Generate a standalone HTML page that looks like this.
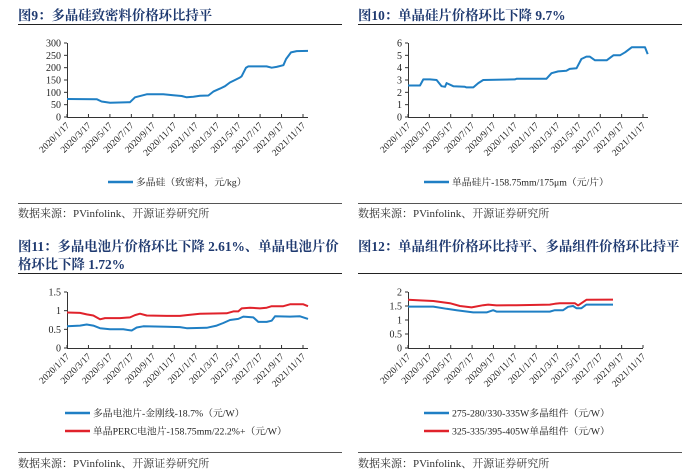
<!DOCTYPE html>
<html><head><meta charset="utf-8">
<style>
html,body{margin:0;padding:0;background:#fff;}
svg{display:block;}
text{font-family:"Liberation Serif","Noto Serif CJK SC",serif;}
.title{font-size:13.4px;font-weight:bold;fill:#1f3a70;}
.tick{font-size:9.5px;fill:#222;}
.ytick{font-size:10px;fill:#222;}
.leg{font-size:9.8px;fill:#222;}
.src{font-size:11px;fill:#333;}
</style></head>
<body>
<svg id="root" width="700" height="474" viewBox="0 0 700 474" xmlns="http://www.w3.org/2000/svg">
  <text class="title" x="18" y="20">图9：多晶硅致密料价格环比持平</text>
  <line x1="18" y1="24.5" x2="342" y2="24.5" stroke="#222" stroke-width="1"/>
  <text class="title" x="358" y="20">图10：单晶硅片价格环比下降 9.7%</text>
  <line x1="358" y1="24.5" x2="682" y2="24.5" stroke="#222" stroke-width="1"/>
  <text class="title" x="18" y="251">图11：多晶电池片价格环比下降 2.61%、单晶电池片价</text>
  <text class="title" x="18" y="269">格环比下降 1.72%</text>
  <line x1="18" y1="273.5" x2="342" y2="273.5" stroke="#222" stroke-width="1"/>
  <text class="title" x="358" y="251">图12：单晶组件价格环比持平、多晶组件价格环比持平</text>
  <line x1="358" y1="273.5" x2="682" y2="273.5" stroke="#222" stroke-width="1"/>

  <line x1="18" y1="203.5" x2="342" y2="203.5" stroke="#555" stroke-width="1"/>
  <text class="src" x="18" y="217">数据来源：PVinfolink、开源证券研究所</text>
  <line x1="358" y1="203.5" x2="682" y2="203.5" stroke="#555" stroke-width="1"/>
  <text class="src" x="358" y="217">数据来源：PVinfolink、开源证券研究所</text>
  <line x1="18" y1="452.5" x2="342" y2="452.5" stroke="#555" stroke-width="1"/>
  <text class="src" x="18" y="467">数据来源：PVinfolink、开源证券研究所</text>
  <line x1="358" y1="452.5" x2="682" y2="452.5" stroke="#555" stroke-width="1"/>
  <text class="src" x="358" y="467">数据来源：PVinfolink、开源证券研究所</text>
</svg>
<script>
// shared x tick labels (month index from 2020/1/17)
const xTickLabels = ["2020/1/17","2020/3/17","2020/5/17","2020/7/17","2020/9/17","2020/11/17","2021/1/17","2021/3/17","2021/5/17","2021/7/17","2021/9/17","2021/11/17"];
const xTickMonths = [0,2,4,6,8,10,12,14,16,18,20,22];

// Fig 9: polysilicon dense material (元/kg)
const f9Months = [0,2.77,3.23,4.01,5.87,6.34,7.43,8.98,9.91,10.69,11.16,11.78,12.40,13.18,13.64,14.26,14.73,15.19,15.66,16.13,16.28,16.69,16.90,18.61,19.08,19.54,20.17,20.42,20.88,21.41,22.47];
const f9Values = [73,72,63,58,60,80,92,92,88,85,80,82,86,87,103,115,125,140,150,160,165,200,205,205,200,203,210,235,262,267,268];
const f9YTicks = [0,50,100,150,200,250,300];

// Fig 10: mono wafer (元/片)
const f10Months = [0,1.12,1.43,2.06,2.68,3.15,3.46,3.61,4.24,5.33,5.48,6.11,6.58,7.04,10.0,10.16,12.96,13.43,14.06,14.83,15.14,15.77,16.23,16.70,17.01,17.51,18.60,19.23,19.85,20.32,20.94,22.19,22.44];
const f10Values = [2.55,2.55,3.05,3.05,3.0,2.5,2.45,2.75,2.5,2.45,2.4,2.4,2.75,3.0,3.05,3.1,3.1,3.55,3.7,3.75,3.9,3.95,4.7,4.9,4.9,4.6,4.6,5.0,5.0,5.25,5.65,5.65,5.1];
const f10YTicks = [0,1,2,3,4,5,6];

// Fig 11: cells (元/W)
const f11BlueX = [201,240,260,280,300,330,370,395,410,430,500,540,560,620,650,670,690,715,730,760,775,800,815,825,870,900,924];
const f11BlueValues = [0.58,0.6,0.63,0.6,0.53,0.5,0.5,0.47,0.55,0.58,0.57,0.56,0.53,0.54,0.6,0.67,0.75,0.78,0.84,0.82,0.7,0.7,0.73,0.85,0.84,0.85,0.78];
const f11RedX = [201,240,260,280,300,315,360,390,405,420,440,500,540,560,600,680,700,715,725,750,780,800,815,850,870,910,924];
const f11RedValues = [0.95,0.94,0.9,0.87,0.77,0.8,0.8,0.82,0.88,0.92,0.87,0.86,0.86,0.88,0.92,0.93,0.98,0.98,1.06,1.08,1.06,1.08,1.12,1.12,1.17,1.17,1.12];
const f11YTicks = [0,0.5,1,1.5];
const f11YLabels = ["0","0.5","1","1.5"];

// Fig 12: modules (元/W)
const f12BlueX = [174,250,290,320,370,410,430,440,600,615,640,655,670,680,695,710,790];
const f12BlueValues = [1.48,1.48,1.4,1.35,1.27,1.27,1.35,1.3,1.3,1.35,1.35,1.47,1.5,1.42,1.42,1.55,1.55];
const f12RedX = [174,210,250,300,330,365,400,415,440,500,600,615,630,675,685,710,790];
const f12RedValues = [1.72,1.7,1.68,1.6,1.5,1.45,1.53,1.55,1.52,1.53,1.55,1.58,1.6,1.6,1.52,1.72,1.73];
const f12YTicks = [0,0.5,1,1.5,2];
const f12YLabels = ["0","0.5","1","1.5","2"];

const NS = "http://www.w3.org/2000/svg";
const root = document.getElementById("root");
function mk(tag, attrs, parent){ const e=document.createElementNS(NS,tag); for(const k in attrs) e.setAttribute(k,attrs[k]); (parent||root).appendChild(e); return e; }

function drawChart(cfg){
  const g = mk("g",{});
  
  
  const xs = m => cfg.x0 + m*(cfg.x22 - cfg.x0)/22;
  const ys = v => cfg.yBot - (v - cfg.yMin)/(cfg.yMax - cfg.yMin)*(cfg.yBot - cfg.yTop);
  const ya = mk("line",{x1:cfg.x0+0.5,y1:cfg.yTop,x2:cfg.x0+0.5,y2:cfg.yBot,stroke:"#333","stroke-width":1},g);
  
  
  cfg.yTicks.forEach((v,i)=>{
    const y = ys(v);
    mk("line",{x1:cfg.x0-3,y1:y,x2:cfg.x0,y2:y,stroke:"#333","stroke-width":1},g);
    const t = mk("text",{x:cfg.x0-6,y:y+3.5,"text-anchor":"end",class:"ytick"},g);
    t.textContent = cfg.yLabels ? cfg.yLabels[i] : String(v);
    
    
  });
  const xa = mk("line",{x1:cfg.x0,y1:cfg.yBot+0.5,x2:cfg.xEnd,y2:cfg.yBot+0.5,stroke:"#333","stroke-width":1},g);
  
  
  xTickMonths.forEach((m,i)=>{
    const x = xs(m);
    mk("line",{x1:x,y1:cfg.yBot-3,x2:x,y2:cfg.yBot,stroke:"#333","stroke-width":1},g);
    const t = mk("text",{x:x+3,y:cfg.yBot+9,"text-anchor":"end",class:"tick",transform:`rotate(-45 ${x+3} ${cfg.yBot+9})`},g);
    t.textContent = xTickLabels[i];
    
    
  });
  cfg.series.forEach((s,si)=>{
    const pts = s.months.map((m,i)=> xs(m).toFixed(1)+","+ys(s.values[i]).toFixed(1)).join(" ");
    const p = mk("polyline",{points:pts,fill:"none",stroke:s.color,"stroke-width":2,"stroke-linejoin":"round"},g);
    
    
    const ly = cfg.legY[si];
    const ll = mk("line",{x1:cfg.legX,y1:ly,x2:cfg.legX+25,y2:ly,stroke:s.color,"stroke-width":2.5},g);
    
    
    const lt = mk("text",{x:cfg.legX+28,y:ly+3.5,class:"leg"},g);
    lt.textContent = s.label;
    
    
  });
}
const z1 = a => a.map(p => (p-201)*22/708);
const z2 = a => a.map(p => (p-174)*22/706);
const BLUE="#1f7fc4", RED="#e0222b";

drawChart({id:"fig9",x0:67,x22:303,xEnd:308,yTop:43,yBot:117,yMin:0,yMax:300,yTicks:f9YTicks,
  legX:108,legY:[182],series:[{name:"polysilicon-line",color:BLUE,months:f9Months,values:f9Values,label:"多晶硅（致密料，元/kg）"}]});
drawChart({id:"fig10",x0:408,x22:643,xEnd:648,yTop:43,yBot:117,yMin:0,yMax:6,yTicks:f10YTicks,
  legX:424,legY:[182],series:[{name:"mono-wafer-line",color:BLUE,months:f10Months,values:f10Values,label:"单晶硅片-158.75mm/175μm（元/片）"}]});
drawChart({id:"fig11",x0:67,x22:303,xEnd:308,yTop:292,yBot:348,yMin:0,yMax:1.5,yTicks:f11YTicks,yLabels:f11YLabels,
  legX:65,legY:[413,431],series:[
   {name:"multi-cell-line",color:BLUE,months:z1(f11BlueX),values:f11BlueValues,label:"多晶电池片-金刚线-18.7%（元/W）"},
   {name:"mono-perc-cell-line",color:RED,months:z1(f11RedX),values:f11RedValues,label:"单晶PERC电池片-158.75mm/22.2%+（元/W）"}]});
drawChart({id:"fig12",x0:408,x22:643,xEnd:643,yTop:292,yBot:348,yMin:0,yMax:2,yTicks:f12YTicks,yLabels:f12YLabels,
  legX:424,legY:[413,431],series:[
   {name:"multi-module-line",color:BLUE,months:z2(f12BlueX),values:f12BlueValues,label:"275-280/330-335W多晶组件（元/W）"},
   {name:"mono-module-line",color:RED,months:z2(f12RedX),values:f12RedValues,label:"325-335/395-405W单晶组件（元/W）"}]});
</script>
</body></html>
